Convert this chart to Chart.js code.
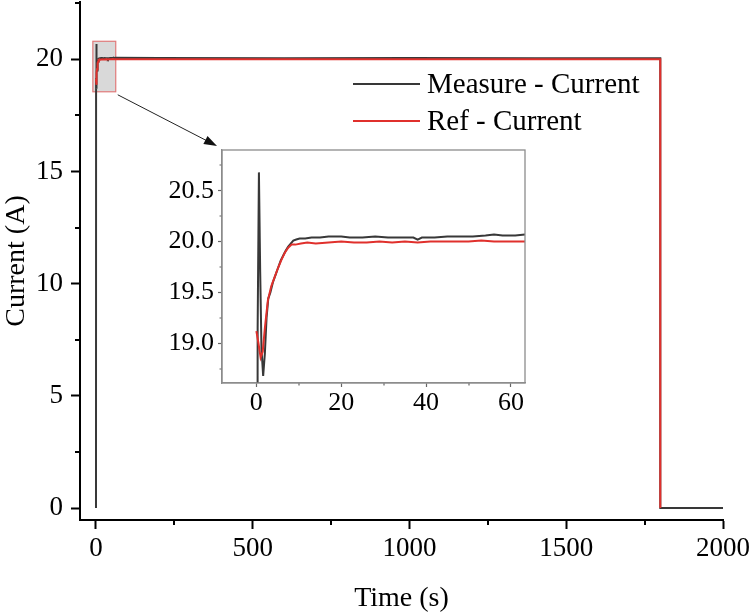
<!DOCTYPE html>
<html><head><meta charset="utf-8">
<script src="https://cdn.jsdelivr.net/npm/chart.js@4.4.1/dist/chart.umd.min.js"></script>
<style>
html,body{margin:0;padding:0;background:#fff;}
#wrap{position:relative;width:751px;height:615px;overflow:hidden;}
#main{position:absolute;left:0;top:0;}
#inset{position:absolute;left:150px;top:145px;}
</style></head><body>
<div id="wrap"><canvas id="main" width="751" height="615"></canvas><canvas id="inset" width="380" height="275"></canvas></div>
<script>
// ---- data ----
const seriesLabels = ['Measure - Current', 'Ref - Current'];
const measureTime = [0, 0.3, 0.6, 0.9, 1.2, 1.6, 2.0, 2.4, 2.8, 3.3, 3.9, 4.5, 5.1, 5.7, 6.3, 6.9, 7.5, 8.1, 8.7, 9.4, 10.2, 11.5, 13, 15, 17, 20, 22, 25, 28, 31, 34, 37, 38, 39, 42, 45, 48, 51, 54, 56, 58, 61, 63.3, 200, 600, 1000, 1400, 1800, 1800, 2000];
const measureCurrent = [0, 19.15, 20.68, 19.7, 18.95, 18.68, 18.9, 19.25, 19.44, 19.5, 19.6, 19.67, 19.74, 19.81, 19.86, 19.91, 19.95, 19.98, 20.01, 20.02, 20.03, 20.03, 20.04, 20.04, 20.05, 20.05, 20.04, 20.04, 20.05, 20.04, 20.04, 20.04, 20.02, 20.04, 20.04, 20.05, 20.05, 20.05, 20.06, 20.07, 20.06, 20.06, 20.07, 20.05, 20.04, 20.05, 20.04, 20.04, 0, 0];
const refTime = [0, 0.5, 1.0, 1.5, 2.0, 2.7, 3.5, 4.3, 5.1, 5.9, 6.7, 7.5, 8.3, 9.2, 10.5, 12, 14, 17, 20, 23, 26, 29, 32, 35, 38, 41, 44, 47, 50, 53, 56, 59, 62, 63.3, 1800, 1800];
const refCurrent = [19.12, 19.0, 18.86, 18.92, 19.15, 19.42, 19.56, 19.65, 19.74, 19.82, 19.89, 19.94, 19.97, 19.97, 19.98, 19.99, 19.98, 19.99, 20.0, 19.99, 19.99, 20.0, 19.99, 20.0, 19.99, 20.0, 20.0, 20.0, 20.0, 20.01, 20.0, 20.0, 20.0, 20.0, 20.0, 0];
const mainXTicks = [0, 500, 1000, 1500, 2000];
const mainXMinor = [250, 750, 1250, 1750];
const mainYTicks = [0, 5, 10, 15, 20];
const mainYMinor = [2.5, 7.5, 12.5, 17.5, 22.5];
const insetXTicks = [0, 20, 40, 60];
const insetXMinor = [10, 30, 50];
const insetYTicks = [19.0, 19.5, 20.0, 20.5];
const insetYMinor = [18.75, 19.25, 19.75, 20.25, 20.75];
const zoomBoxX = [-10, 63];
const zoomBoxY = [18.55, 20.8];

// ---- style ----
const FONT = '"Liberation Serif", "Times New Roman", serif';
const BLACK = '#383838';
const RED = '#e0302c';
const pts = (xs, ys) => xs.map((x, i) => ({x: x, y: ys[i]}));

function makeDatasets(w) {
  return [
    {label: seriesLabels[0], data: pts(measureTime, measureCurrent), borderColor: BLACK, borderWidth: w, order: 2},
    {label: seriesLabels[1], data: pts(refTime, refCurrent), borderColor: RED, borderWidth: w, order: 1}
  ];
}
function fixSize(prop, val) {
  return s => { s[prop] = val; s.paddingTop = 0; s.paddingBottom = 0; s.paddingLeft = 0; s.paddingRight = 0; };
}

function minorTicksPlugin(xMinor, yMinor, len, color, width) {
  return {
    id: 'minor',
    afterDraw(chart) {
      const ctx = chart.ctx, xs = chart.scales.x, ys = chart.scales.y, a = chart.chartArea;
      ctx.save();
      ctx.strokeStyle = color; ctx.lineWidth = width;
      ctx.beginPath();
      xMinor.forEach(v => { const p = Math.round(xs.getPixelForValue(v)); ctx.moveTo(p, a.bottom); ctx.lineTo(p, a.bottom + len); });
      yMinor.forEach(v => { const p = Math.round(ys.getPixelForValue(v)); ctx.moveTo(a.left, p); ctx.lineTo(a.left - len, p); });
      ctx.stroke();
      ctx.restore();
    }
  };
}

const zoomBoxPlugin = {
  id: 'zoomBox',
  beforeDatasetsDraw(chart) {
    const ctx = chart.ctx, xs = chart.scales.x, ys = chart.scales.y;
    const x0 = xs.getPixelForValue(zoomBoxX[0]), x1 = xs.getPixelForValue(zoomBoxX[1]);
    const y0 = ys.getPixelForValue(zoomBoxY[1]), y1 = ys.getPixelForValue(zoomBoxY[0]);
    ctx.save();
    ctx.fillStyle = '#d9d9d9';
    ctx.fillRect(x0, y0, x1 - x0, y1 - y0);
    ctx.strokeStyle = '#e07a7a'; ctx.lineWidth = 1.2;
    ctx.strokeRect(x0, y0, x1 - x0, y1 - y0);
    ctx.restore();
  },
  afterDraw(chart) {
    const ctx = chart.ctx, xs = chart.scales.x, ys = chart.scales.y;
    const sx = xs.getPixelForValue(zoomBoxX[1]) + 2, sy = ys.getPixelForValue(zoomBoxY[0]) + 3;
    const inset = Chart.getChart('inset');
    const ex = 150 + inset.chartArea.left - 5, ey = 145 + inset.chartArea.top - 4;
    const ang = Math.atan2(ey - sy, ex - sx);
    ctx.save();
    ctx.strokeStyle = '#222'; ctx.fillStyle = '#111'; ctx.lineWidth = 1;
    ctx.beginPath(); ctx.moveTo(sx, sy); ctx.lineTo(ex - 10 * Math.cos(ang), ey - 10 * Math.sin(ang)); ctx.stroke();
    ctx.beginPath();
    ctx.moveTo(ex, ey);
    ctx.lineTo(ex - 13 * Math.cos(ang) + 4.5 * Math.sin(ang), ey - 13 * Math.sin(ang) - 4.5 * Math.cos(ang));
    ctx.lineTo(ex - 13 * Math.cos(ang) - 4.5 * Math.sin(ang), ey - 13 * Math.sin(ang) + 4.5 * Math.cos(ang));
    ctx.closePath(); ctx.fill();
    ctx.restore();
  }
};

const legendPlugin = {
  id: 'customLegend',
  afterDraw(chart) {
    const ctx = chart.ctx;
    ctx.save();
    ctx.font = '29px ' + FONT; ctx.textBaseline = 'middle'; ctx.fillStyle = '#000';
    chart.data.datasets.forEach((ds, i) => {
      const y = 84 + i * 37;
      ctx.strokeStyle = ds.borderColor; ctx.lineWidth = 2;
      ctx.beginPath(); ctx.moveTo(353, y); ctx.lineTo(420, y); ctx.stroke();
      ctx.fillText(ds.label, 427, y + 1);
    });
    ctx.restore();
  }
};

const insetFramePlugin = {
  id: 'frame',
  afterDraw(chart) {
    const a = chart.chartArea, ctx = chart.ctx;
    ctx.save(); ctx.strokeStyle = '#8c8c8c'; ctx.lineWidth = 1.3;
    ctx.strokeRect(a.left, a.top, a.right - a.left, a.bottom - a.top);
    ctx.restore();
  }
};

// ---- inset chart ----
new Chart(document.getElementById('inset'), {
  type: 'scatter',
  data: {datasets: makeDatasets(2)},
  options: {
    responsive: false, animation: false, showLine: true,
    elements: {point: {radius: 0}, line: {tension: 0}},
    layout: {padding: {top: 5, right: 5, left: 0, bottom: 0}},
    plugins: {legend: {display: false}, tooltip: {enabled: false}},
    scales: {
      x: {type: 'linear', min: -8.1, max: 63.3,
        afterBuildTicks: s => { s.ticks = insetXTicks.map(v => ({value: v})); },
        afterFit: fixSize('height', 37),
        grid: {drawOnChartArea: false, tickLength: 4, tickWidth: 1.2, tickColor: '#666'},
        border: {display: true, color: '#8c8c8c', width: 1.3},
        ticks: {font: {family: FONT, size: 26}, color: '#000', padding: 1, maxRotation: 0, autoSkip: false, callback: v => String(v)}
      },
      y: {type: 'linear', min: 18.61, max: 20.9,
        afterBuildTicks: s => { s.ticks = insetYTicks.map(v => ({value: v})); },
        afterFit: fixSize('width', 72),
        grid: {drawOnChartArea: false, tickLength: 4, tickWidth: 1.2, tickColor: '#666'},
        border: {display: true, color: '#8c8c8c', width: 1.3},
        ticks: {font: {family: FONT, size: 26}, color: '#000', padding: 4, autoSkip: false, callback: v => v.toFixed(1)}
      }
    }
  },
  plugins: [minorTicksPlugin(insetXMinor, insetYMinor, 2.5, '#666', 1.2), insetFramePlugin]
});

// ---- main chart ----
new Chart(document.getElementById('main'), {
  type: 'scatter',
  data: {datasets: makeDatasets(2)},
  options: {
    responsive: false, animation: false, showLine: true,
    elements: {point: {radius: 0}, line: {tension: 0}},
    layout: {padding: {top: 2, right: 28, left: 0, bottom: 0}},
    plugins: {legend: {display: false}, tooltip: {enabled: false}},
    scales: {
      x: {type: 'linear', min: -51, max: 2000,
        afterBuildTicks: s => { s.ticks = mainXTicks.map(v => ({value: v})); },
        afterFit: fixSize('height', 95),
        grid: {drawOnChartArea: false, tickLength: 9, tickWidth: 2, tickColor: '#000'},
        border: {display: true, color: '#000', width: 2},
        ticks: {font: {family: FONT, size: 27}, color: '#000', padding: 4, maxRotation: 0, autoSkip: false, callback: v => String(v)},
        title: {display: true, text: 'Time (s)', font: {family: FONT, size: 28}, color: '#000', padding: 0}
      },
      y: {type: 'linear', min: -0.53, max: 22.55,
        afterBuildTicks: s => { s.ticks = mainYTicks.map(v => ({value: v})); },
        afterFit: fixSize('width', 80),
        grid: {drawOnChartArea: false, tickLength: 9, tickWidth: 2, tickColor: '#000'},
        border: {display: true, color: '#000', width: 2},
        ticks: {font: {family: FONT, size: 27}, color: '#000', padding: 8, autoSkip: false, callback: v => String(v)},
        title: {display: true, text: 'Current (A)', font: {family: FONT, size: 28}, color: '#000', padding: 0}
      }
    }
  },
  plugins: [zoomBoxPlugin, minorTicksPlugin(mainXMinor, mainYMinor, 5, '#000', 2), legendPlugin]
});
</script>
</body></html>
